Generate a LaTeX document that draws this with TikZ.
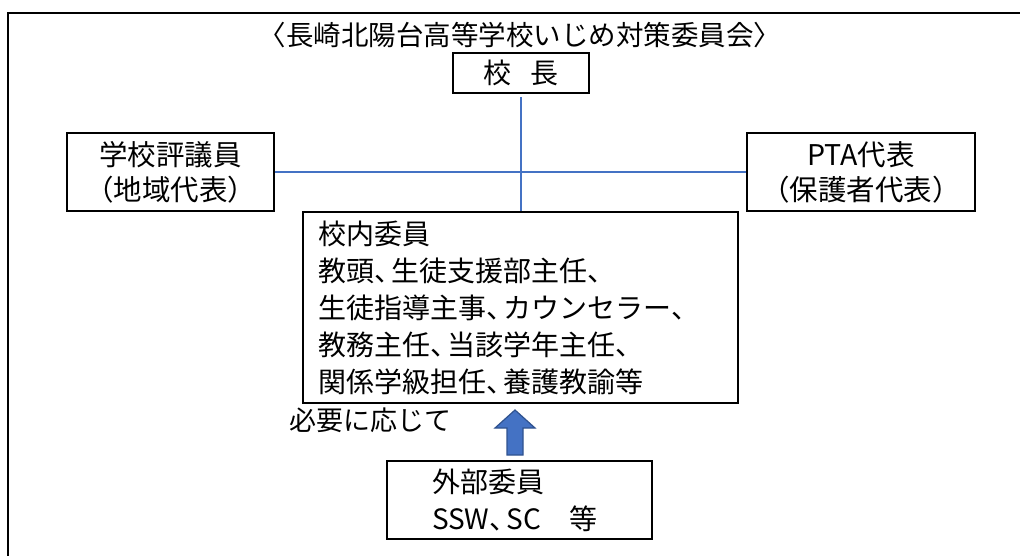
\documentclass[tikz,border=0pt]{standalone}
\usepackage{fontspec}
\setmainfont{Noto Sans CJK JP}
\definecolor{lineblue}{HTML}{4472C4}
\definecolor{arrowedge}{HTML}{2F528F}
\newcommand{\jtouten}{\makebox[0.62em][l]{、}}
\newcommand{\jlparen}{\makebox[0.6em][r]{（}}
\newcommand{\jrparen}{\makebox[0.6em][l]{）}}
\tikzset{
  box/.style={draw=black, line width=2.6pt, fill=white, inner sep=0pt, align=center},
  link/.style={draw=lineblue, line width=1.2pt},
  blockarrow/.style={fill=lineblue, draw=arrowedge, line width=1.2pt, line join=miter},
  txtmain/.style={font=\fontsize{28}{37}\selectfont},
  txtside/.style={font=\fontsize{28.5}{35}\selectfont}
}
\begin{document}
\begin{tikzpicture}[x=1pt,y=-1pt]
\useasboundingbox (0,0) rectangle (1020,556);
% outer frame (runs off the right and bottom edges)
\draw[line width=2.8pt] (8,600) -- (8,13) -- (1060,13);
\node[font=\fontsize{27.5}{30}\selectfont, inner sep=0pt] (title) at (520,35) {〈長崎北陽台高等学校いじめ対策委員会〉};
\node[box, txtmain, minimum width=136pt, minimum height=40pt] (kocho) at (521,73) {校\hspace{0.7em}長};
\node[box, txtside, minimum width=207pt, minimum height=78pt] (hyogi) at (170.5,172) {学校評議員\\\jlparen 地域代表\jrparen};
\node[box, txtside, minimum width=228pt, minimum height=78pt] (pta) at (861,172) {PTA代表\\\jlparen 保護者代表\jrparen};
\node[box, txtmain, align=left, text width=405pt, inner xsep=15pt, minimum height=191pt] (konai) at (520.5,307.5)
  {校内委員\\教頭\jtouten 生徒支援部主任\jtouten\\生徒指導主事\jtouten カウンセラー\jtouten\\教務主任\jtouten 当該学年主任\jtouten\\関係学級担任\jtouten 養護教諭等};
\node[box, txtmain, align=left, text width=175pt, inner xsep=45pt, minimum height=78pt] (gaibu) at (519.5,500)
  {外部委員\\SSW\jtouten SC　等};
\node[font=\fontsize{27}{30}\selectfont, inner sep=0pt, anchor=west] (hitsuyo) at (289,420) {必要に応じて};
% connectors
\draw[link] (hyogi.east) -- (pta.west);
\draw[link, shorten <=3pt] (kocho.south) -- (kocho.south |- konai.north);
% block arrow from external members up to the internal committee
\coordinate (tip) at (515,410);
\draw[blockarrow] (tip) -- ++(20,18) -- ++(-12,0) -- ++(0,27) -- ++(-16,0) -- ++(0,-27) -- ++(-12,0) -- cycle;
\end{tikzpicture}
\end{document}
